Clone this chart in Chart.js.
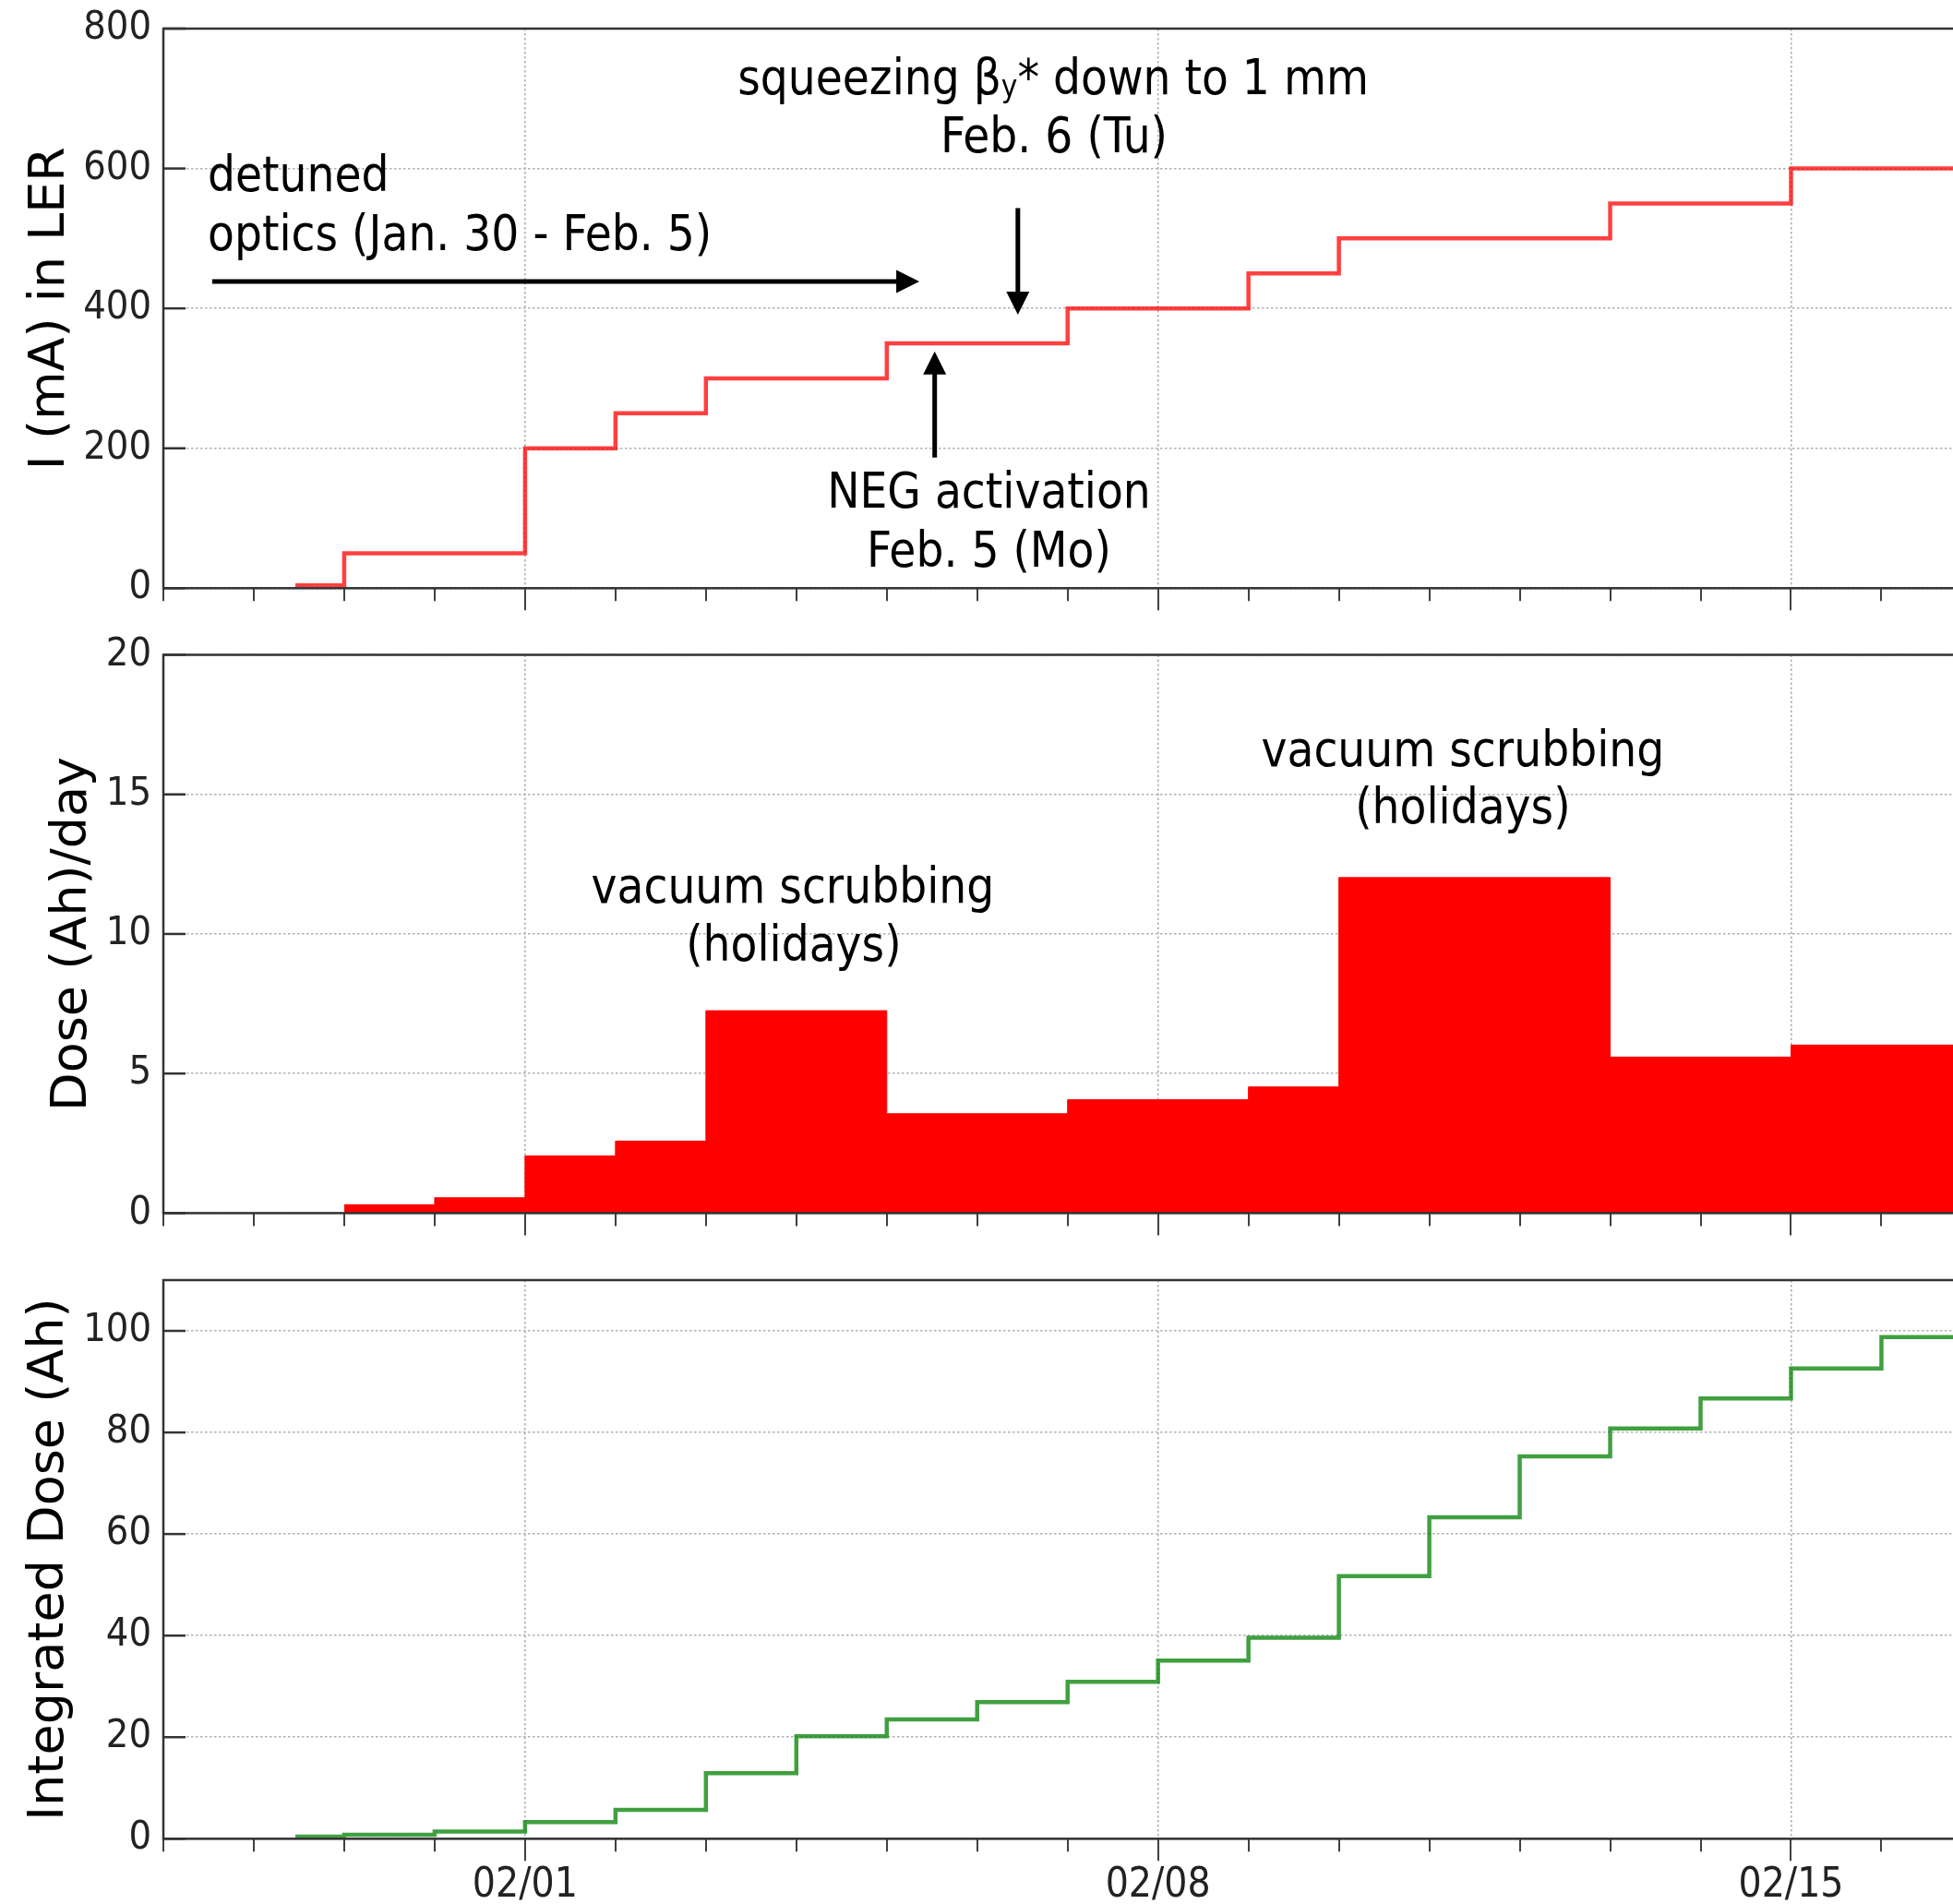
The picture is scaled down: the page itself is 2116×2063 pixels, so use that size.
<!DOCTYPE html>
<html>
<head>
<meta charset="utf-8">
<script src="https://cdn.jsdelivr.net/npm/chart.js@4.4.1/dist/chart.umd.min.js"></script>
<style>
html, body { margin: 0; padding: 0; background: #fff; overflow: hidden; width: 2116px; height: 2063px; }
canvas { position: absolute; left: 0; }
</style>
</head>
<body>
<canvas id="c1" width="2260" height="680" style="top:0px"></canvas>
<canvas id="c2" width="2260" height="680" style="top:680px"></canvas>
<canvas id="c3" width="2260" height="703" style="top:1360px"></canvas>
<script>
// ---- DATA (x = calendar day: Jan 28 = 28, Feb 1 = 32, Feb 8 = 39, Feb 15 = 46) ----
const xMin = 28, xMax = 49;
const majorDays   = [32, 39, 46];
const majorLabels = ['02/01', '02/08', '02/15'];

const currentDays = [29.46, 30, 32, 33, 34, 36, 38, 40, 41, 44, 46, 49];
const currentLER  = [4, 50, 200, 250, 300, 350, 400, 450, 500, 550, 600, 600];

const doseDays    = [30, 31, 32, 33, 34, 36, 38, 40, 41, 44, 46, 48];
const dosePerDay  = [0.3, 0.55, 2.05, 2.58, 7.25, 3.56, 4.06, 4.52, 12.02, 5.59, 6.02, 6.02];

const intDays     = [29.46, 30, 31, 32, 33, 34, 35, 36, 37, 38, 39, 40, 41, 42, 43, 44, 45, 46, 47, 49];
const intDose     = [0.4, 0.8, 1.4, 3.3, 5.7, 12.9, 20.2, 23.5, 26.9, 30.9, 35.1, 39.6, 51.7, 63.3, 75.3, 80.8, 86.7, 92.6, 98.8, 98.8];

const yTicksCurrent = [0, 200, 400, 600, 800];
const yTicksDose    = [0, 5, 10, 15, 20];
const yTicksInt     = [0, 20, 40, 60, 80, 100];

// annotation texts (anchored in data coordinates)
const notesCurrent = [
  { text: 'detuned', x: 28.49, y: 567.8, align: 'left' },
  { text: 'optics (Jan. 30 - Feb. 5)', x: 28.49, y: 483.3, align: 'left' },
  { text: 'Feb. 6 (Tu)', x: 37.85, y: 623.2, align: 'center' },
  { text: 'NEG activation', x: 37.13, y: 115.2, align: 'center' },
  { text: 'Feb. 5 (Mo)', x: 37.13, y: 31.3, align: 'center' }
];
const richCurrent = [
  { x: 37.84, y: 706.3, parts: [ { text: 'squeezing β' }, { text: 'y', sub: true }, { text: '* down to 1 mm' } ] }
];
const arrowsCurrent = [
  { x1: 28.54, y1: 438.5, x2: 36.36, y2: 438.5 },
  { x1: 37.45, y1: 543.4, x2: 37.45, y2: 391.0 },
  { x1: 36.53, y1: 186.8, x2: 36.53, y2: 338.6 }
];
const notesDose = [
  { text: 'vacuum scrubbing', x: 34.96, y: 11.12, align: 'center' },
  { text: '(holidays)', x: 34.97, y: 9.04, align: 'center' },
  { text: 'vacuum scrubbing', x: 42.37, y: 16.03, align: 'center' },
  { text: '(holidays)', x: 42.37, y: 13.95, align: 'center' }
];

// ---- STYLE ----
const tickFont  = '"DejaVu Sans Condensed", "Liberation Sans", sans-serif';
const titleFont = '"DejaVu Sans", sans-serif';
const annFont   = '"DejaVu Sans Condensed", "Liberation Sans", sans-serif';
const annSize = 52.5, subSize = 33;
const gridColor = '#b0b0b0';

function drawArrow(ctx, x1, y1, x2, y2) {
  const ang = Math.atan2(y2 - y1, x2 - x1);
  const hl = 25, hw = 12.5;
  const bx = x2 - hl * Math.cos(ang), by = y2 - hl * Math.sin(ang);
  ctx.strokeStyle = '#000'; ctx.lineWidth = 5; ctx.lineCap = 'butt';
  ctx.beginPath(); ctx.moveTo(x1, y1); ctx.lineTo(bx + Math.cos(ang), by + Math.sin(ang)); ctx.stroke();
  ctx.fillStyle = '#000';
  ctx.beginPath();
  ctx.moveTo(x2, y2);
  ctx.lineTo(bx + hw * Math.sin(ang), by - hw * Math.cos(ang));
  ctx.lineTo(bx - hw * Math.sin(ang), by + hw * Math.cos(ang));
  ctx.closePath(); ctx.fill();
}

function makeDecor(cfg) {
  return {
    id: 'decor_' + cfg.id,
    afterDraw(chart) {
      const ctx = chart.ctx, a = chart.chartArea, x = chart.scales.x, y = chart.scales.y;
      ctx.save();
      // outward x ticks: every day, longer at majors
      ctx.strokeStyle = '#404040'; ctx.lineWidth = 2;
      for (let d = Math.ceil(x.min); d <= x.max; d++) {
        const px = Math.round(x.getPixelForValue(d));
        const len = majorDays.includes(d) ? 24 : 14;
        ctx.beginPath(); ctx.moveTo(px, a.bottom); ctx.lineTo(px, a.bottom + len); ctx.stroke();
      }
      // inward y ticks
      ctx.strokeStyle = '#333'; ctx.lineWidth = 2.5;
      y.ticks.forEach(t => {
        const py = y.getPixelForValue(t.value);
        ctx.beginPath(); ctx.moveTo(a.left, py); ctx.lineTo(a.left + 24, py); ctx.stroke();
      });
      // frame
      ctx.strokeStyle = '#333'; ctx.lineWidth = 2.5;
      ctx.strokeRect(a.left, a.top, a.right - a.left, a.bottom - a.top);
      // texts
      ctx.fillStyle = '#000';
      ctx.textBaseline = 'alphabetic';
      (cfg.notes || []).forEach(t => {
        ctx.font = annSize + 'px ' + annFont;
        ctx.textAlign = t.align;
        ctx.fillText(t.text, x.getPixelForValue(t.x), y.getPixelForValue(t.y));
      });
      (cfg.rich || []).forEach(r => {
        let total = 0;
        const widths = r.parts.map(p => {
          ctx.font = (p.sub ? subSize : annSize) + 'px ' + annFont;
          const w = ctx.measureText(p.text).width; total += w; return w;
        });
        let cx = x.getPixelForValue(r.x) - total / 2;
        const by = y.getPixelForValue(r.y);
        ctx.textAlign = 'left';
        r.parts.forEach((p, i) => {
          ctx.font = (p.sub ? subSize : annSize) + 'px ' + annFont;
          ctx.fillText(p.text, cx, by + (p.sub ? 3 : 0));
          cx += widths[i];
        });
      });
      (cfg.arrows || []).forEach(ar => drawArrow(ctx,
        x.getPixelForValue(ar.x1), y.getPixelForValue(ar.y1),
        x.getPixelForValue(ar.x2), y.getPixelForValue(ar.y2)));
      ctx.restore();
    }
  };
}

function makeChart(cfg) {
  const canvas = document.getElementById(cfg.id);
  return new Chart(canvas, {
    type: 'line',
    data: {
      datasets: [{
        data: cfg.xs.map((v, i) => ({ x: v, y: cfg.ys[i] })),
        stepped: 'before',
        borderColor: cfg.color,
        borderWidth: cfg.bw,
        backgroundColor: cfg.fillColor || 'rgba(0,0,0,0)',
        fill: cfg.fill ? 'origin' : false,
        pointRadius: 0,
        tension: 0
      }]
    },
    options: {
      responsive: false,
      animation: false,
      devicePixelRatio: 1,
      layout: { padding: { top: cfg.padTop, right: 25.6, left: 0, bottom: 0 } },
      plugins: { legend: { display: false }, tooltip: { enabled: false } },
      scales: {
        x: {
          type: 'linear', min: xMin, max: xMax,
          afterBuildTicks: s => { s.ticks = majorDays.map(v => ({ value: v })); },
          afterFit: s => { s.height = cfg.xHeight; s.paddingLeft = 0; s.paddingRight = 0; },
          grid: { color: gridColor, lineWidth: 1.6, drawTicks: false, borderDash: [2.5, 2.5] },
          border: { display: false, dash: [2.5, 2.5] },
          ticks: {
            display: cfg.xLabels, maxRotation: 0, minRotation: 0, autoSkip: false,
            padding: 25, color: '#222', font: { family: tickFont, size: 44 },
            callback: v => { const k = majorDays.indexOf(v); return k >= 0 ? majorLabels[k] : ''; }
          }
        },
        y: {
          type: 'linear', min: cfg.ymin, max: cfg.ymax,
          afterBuildTicks: s => { s.ticks = cfg.yTicks.map(v => ({ value: v })); },
          afterFit: s => { s.width = 177; s.paddingTop = 0; s.paddingBottom = 0; },
          grid: { color: gridColor, lineWidth: 1.6, drawTicks: false, borderDash: [2.5, 2.5] },
          border: { display: false, dash: [2.5, 2.5] },
          ticks: { padding: 13, color: '#222', font: { family: tickFont, size: 43 } },
          title: {
            display: true, text: cfg.title, color: '#000',
            font: { family: titleFont, size: 54 },
            padding: { top: cfg.titlePad, bottom: 0 }
          }
        }
      }
    },
    plugins: [makeDecor(cfg)]
  });
}

makeChart({
  id: 'c1', xs: currentDays, ys: currentLER, color: 'rgba(255,0,0,0.75)', bw: 4.5,
  ymin: 0, ymax: 800, yTicks: yTicksCurrent, title: 'I (mA) in LER', titlePad: 23,
  padTop: 31, xHeight: 42.7, xLabels: false,
  notes: notesCurrent, rich: richCurrent, arrows: arrowsCurrent
});
makeChart({
  id: 'c2', xs: doseDays, ys: dosePerDay, color: '#ff0000', bw: 1, fill: true, fillColor: '#ff0000',
  ymin: 0, ymax: 20, yTicks: yTicksDose, title: 'Dose (Ah)/day', titlePad: 47,
  padTop: 29.5, xHeight: 45.6, xLabels: false,
  notes: notesDose
});
makeChart({
  id: 'c3', xs: intDays, ys: intDose, color: 'rgba(0,128,0,0.75)', bw: 4.5,
  ymin: 0, ymax: 110, yTicks: yTicksInt, title: 'Integrated Dose (Ah)', titlePad: 22,
  padTop: 27, xHeight: 70.7, xLabels: true
});
</script>
</body>
</html>
